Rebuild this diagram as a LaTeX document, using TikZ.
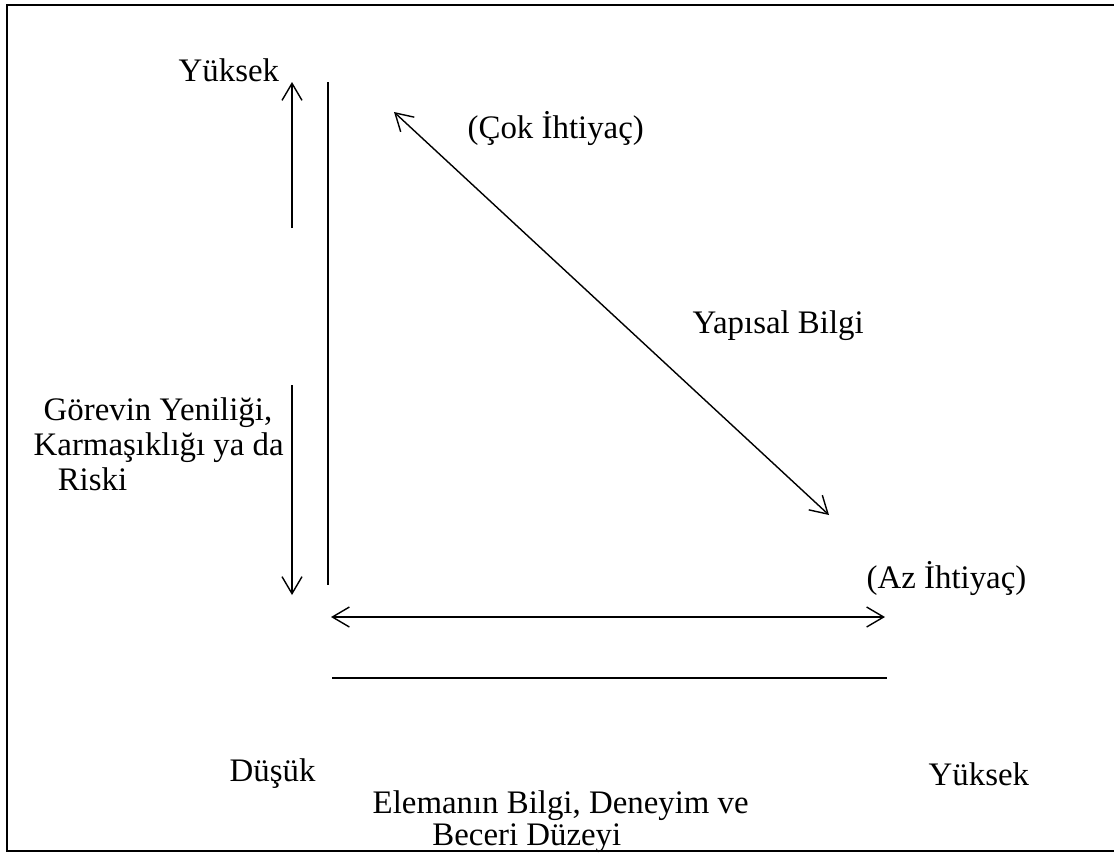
\documentclass[tikz,border=0pt]{standalone}
\usepackage{fontspec}
\setmainfont{Liberation Serif}
\usetikzlibrary{arrows.meta}

\begin{document}
\begin{tikzpicture}[x=0.02cm,y=-0.02cm,line width=0.8pt,
  >={Straight Barb[length=3.4mm,width=4mm,line width=0.8pt]},
  font=\fontsize{18.7}{20}\selectfont,
  lbl/.style={inner sep=0pt,anchor=west},
  blk/.style={inner sep=0pt,anchor=north west,align=left}]
  \useasboundingbox (0,0) rectangle (1114,853);
  % frame
  \draw[line width=1.2pt] (1120,5) -- (7,5) -- (7,851) -- (1120,851);
  % end points
  \coordinate (upB) at (292,228);  \coordinate (upT) at (292,82);
  \coordinate (dnT) at (292,385);  \coordinate (dnB) at (292,595);
  \coordinate (axT) at (328,82);   \coordinate (axB) at (328,585);
  \coordinate (dgT) at (394,112);  \coordinate (dgB) at (829,515);
  \coordinate (hzL) at (331,617);  \coordinate (hzR) at (885,617);
  \coordinate (lnL) at (332,678);  \coordinate (lnR) at (887,678);
  % labels
  \node[lbl] (hiY) at (178,70) {Yüksek};
  \node[lbl] (cok) at (467,128) {(Çok İhtiyaç)};
  \node[lbl] (yap) at (692,326) {Yapısal Bilgi};
  \node[blk] (task) at (33,397)
    {\hspace*{5.7pt}Görevin Yeniliği,\\Karmaşıklığı ya da\\\hspace*{13.7pt}Riski};
  \node[lbl] (az) at (866,578) {(Az İhtiyaç)};
  \node[lbl] (lo) at (229,774) {Düşük};
  \node[lbl] (hiX) at (928,774) {Yüksek};
  \node[blk,font=\fontsize{18.7}{18.3}\selectfont] (emp) at (372,790)
    {Elemanın Bilgi, Deneyim ve\\\hspace*{34pt}Beceri Düzeyi};
  % arrows and axes
  \draw[->] (upB) -- (upT);
  \draw[->] (dnT) -- (dnB);
  \draw (axT) -- (axB);
  \draw[<->] (dgT) -- (dgB);
  \draw[<->] (hzL) -- (hzR);
  \draw (lnL) -- (lnR);
\end{tikzpicture}
\end{document}
